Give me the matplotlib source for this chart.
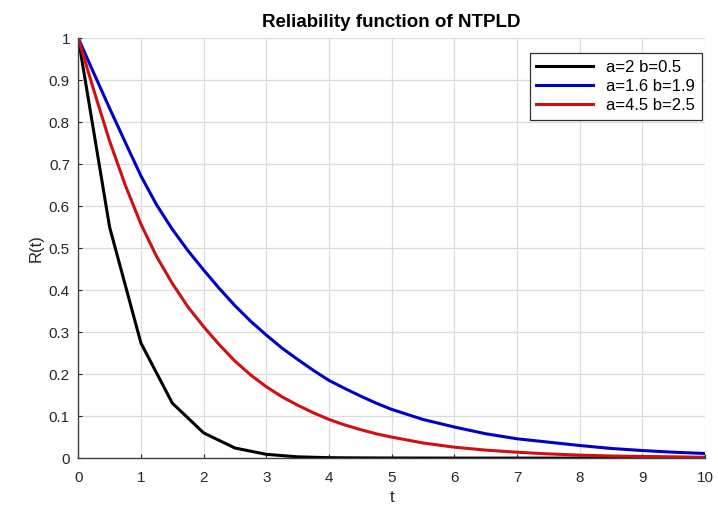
"""Reliability function of NTPLD for three parameter sets."""

import matplotlib.pyplot as plt
import numpy as np

# black curve is sampled every 0.5
t_coarse = np.arange(0, 10.5, 0.5)
r_a2_b05 = [1.0, 0.55, 0.274, 0.131, 0.060, 0.024, 0.009, 0.003, 0.001, 0.0005,
            0.0002, 0.0001, 0.0, 0.0, 0.0, 0.0, 0.0, 0.0, 0.0, 0.0, 0.0]

# blue and red read every 0.25 up to t=5, then every 0.5
t_fine = np.concatenate([np.arange(0, 5.0, 0.25), np.arange(5.0, 10.5, 0.5)])
r_a16_b19 = [1.0, 0.916, 0.833, 0.752, 0.672, 0.603, 0.545, 0.494, 0.448, 0.404,
             0.363, 0.326, 0.293, 0.262, 0.235, 0.209, 0.185, 0.166, 0.148, 0.131,
             0.116, 0.092, 0.074, 0.058, 0.046, 0.038, 0.030, 0.023, 0.018, 0.014, 0.011]
r_a45_b25 = [1.0, 0.875, 0.755, 0.65, 0.557, 0.48, 0.416, 0.36, 0.313, 0.27,
             0.231, 0.198, 0.17, 0.146, 0.126, 0.108, 0.092, 0.079, 0.068, 0.058,
             0.050, 0.036, 0.026, 0.019, 0.014, 0.010, 0.007, 0.005, 0.004, 0.003, 0.002]

labels = ["a=2 b=0.5", "a=1.6 b=1.9", "a=4.5 b=2.5"]
colors = ["#000000", "#0000c8", "#d01010"]


def main() -> None:
    plt.rcParams["font.family"] = ["Liberation Sans", "DejaVu Sans"]

    fig = plt.figure(figsize=(7.18, 5.09), dpi=100)
    ax = fig.add_axes([0.109, 0.100, 0.873, 0.825])

    ax.plot(t_coarse, r_a2_b05, color=colors[0], lw=2.2, label=labels[0])
    ax.plot(t_fine, r_a16_b19, color=colors[1], lw=2.2, label=labels[1])
    ax.plot(t_fine, r_a45_b25, color=colors[2], lw=2.2, label=labels[2])

    ax.set_xlim(0, 10)
    ax.set_ylim(0, 1)
    ax.set_xticks(np.arange(0, 11, 1))
    ax.set_yticks(np.arange(0, 1.01, 0.1))
    ax.set_yticklabels(["0", "0.1", "0.2", "0.3", "0.4", "0.5", "0.6", "0.7", "0.8", "0.9", "1"])
    ax.grid(True, color="#dcdcdc", lw=0.9)
    ax.set_axisbelow(True)

    for side in ("top", "right"):
        ax.spines[side].set_visible(False)
    for side in ("left", "bottom"):
        ax.spines[side].set_color("#404040")
        ax.spines[side].set_linewidth(1.0)
    ax.tick_params(direction="in", length=3, labelsize=11, colors="#262626", pad=6)
    ax.tick_params(axis="x", pad=9)

    ax.set_xlabel("t", fontsize=12, color="#262626", labelpad=4)
    ax.set_ylabel("R(t)", fontsize=12, color="#262626", labelpad=4)
    ax.set_title("Reliability function of NTPLD", fontsize=13.5, fontweight="bold", pad=8)

    leg = ax.legend(loc="upper right", bbox_to_anchor=(0.995, 0.964), fontsize=12,
                    fancybox=False, framealpha=1, handlelength=3.4, borderpad=0.4,
                    labelspacing=0.25, borderaxespad=0)
    leg.get_frame().set_edgecolor("#303030")
    leg.get_frame().set_linewidth(0.9)

    fig.savefig("out.png", dpi=100)


if __name__ == "__main__":
    main()
